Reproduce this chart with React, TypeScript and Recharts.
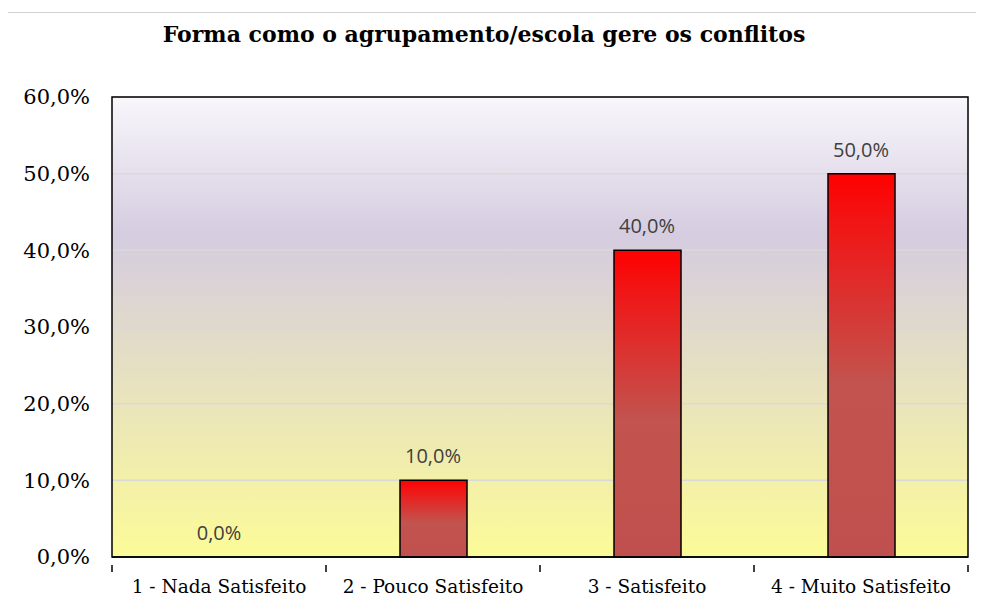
import { ComposedChart, Bar, Line, XAxis, YAxis, CartesianGrid, LabelList, ReferenceArea } from 'recharts';

const CATEGORIES = ['1 - Nada Satisfeito', '2 - Pouco Satisfeito', '3 - Satisfeito', '4 - Muito Satisfeito'];
const PERCENTAGES = [0, 10, 40, 50];
const Y_TICKS = [0, 10, 20, 30, 40, 50, 60];

const W = 984;
const H = 608;
const MARGIN = { top: 97, right: 16, bottom: 0, left: 0 };
const Y_AXIS_W = 112;
const X_AXIS_H = 51;
const BAND = (W - MARGIN.right - Y_AXIS_W) / CATEGORIES.length;

const SERIF = '"DejaVu Serif", serif';
const fmt = (v: number) => v.toFixed(1).replace('.', ',') + '%';

const data = CATEGORIES.map((name, i) => ({ name, value: PERCENTAGES[i] }));

const CategoryTick = ({ x, y, payload, index }: any) => {
  const last = index === CATEGORIES.length - 1;
  return (
    <g>
      <line x1={x - BAND / 2} y1={y} x2={x - BAND / 2} y2={y + 7} stroke="#000" strokeWidth={1.5} />
      {last && <line x1={x + BAND / 2} y1={y} x2={x + BAND / 2} y2={y + 7} stroke="#000" strokeWidth={1.5} />}
      <text x={x} y={y + 28} textAnchor="middle" fill="#000" fontFamily={SERIF} fontSize={18.5}>
        {payload.value}
      </text>
    </g>
  );
};

export default function App() {
  return (
    <div style={{ position: 'relative', margin: -8, width: W, height: H, background: '#fff', overflow: 'hidden' }}>
      <div style={{ position: 'absolute', left: 4, top: 12, width: 1000, height: 620, border: '1px solid #D0D0D0' }} />
      <div
        style={{
          position: 'absolute', left: -8, top: 0, width: W, textAlign: 'center',
          fontFamily: SERIF, fontWeight: 700, fontSize: 22, lineHeight: '26px', paddingTop: 21,
        }}
      >
        Forma como o agrupamento/escola gere os conflitos
      </div>
      <div style={{ position: 'absolute', left: 0, top: 0 }}>
        <ComposedChart width={W} height={H} data={data} margin={MARGIN} barSize={67}>
          <defs>
            <linearGradient id="bgGrad" x1="0" y1="0" x2="0" y2="1">
              <stop offset="0%" stopColor="#F8F7FB" />
              <stop offset="30%" stopColor="#D5CCE0" />
              <stop offset="100%" stopColor="#FCFB98" />
            </linearGradient>
            <linearGradient id="barGrad" x1="0" y1="0" x2="0" y2="1">
              <stop offset="0%" stopColor="#FF0000" />
              <stop offset="12%" stopColor="#F21414" />
              <stop offset="55%" stopColor="#C2534E" />
              <stop offset="100%" stopColor="#C0504D" />
            </linearGradient>
          </defs>
          <CartesianGrid vertical={false} stroke="#D9D9D9" strokeWidth={1.5} fill="url(#bgGrad)" fillOpacity={1} />
          <XAxis
            dataKey="name"
            height={X_AXIS_H}
            axisLine={{ stroke: '#000', strokeWidth: 1.5 }}
            tickLine={false}
            tick={<CategoryTick />}
            interval={0}
          />
          <YAxis
            width={Y_AXIS_W}
            domain={[0, 60]}
            ticks={Y_TICKS}
            tickFormatter={fmt}
            axisLine={false}
            tickLine={false}
            tickSize={0}
            tickMargin={22}
            tick={{ fill: '#000', fontFamily: SERIF, fontSize: 21 }}
          />
          <ReferenceArea y1={0} y2={60} fill="none" stroke="#000" strokeWidth={1.5} ifOverflow="visible" />
          <Bar dataKey="value" fill="url(#barGrad)" stroke="#000" strokeWidth={1.5} isAnimationActive={false} />
          <Line
            dataKey="value"
            stroke="none"
            dot={false}
            activeDot={false}
            legendType="none"
            isAnimationActive={false}
          >
            <LabelList
              dataKey="value"
              position="top"
              offset={17}
              formatter={(v: any) => fmt(Number(v))}
              fill="#404040"
              fontFamily='"Open Sans", sans-serif'
              fontSize={20}
            />
          </Line>
        </ComposedChart>
      </div>
    </div>
  );
}
